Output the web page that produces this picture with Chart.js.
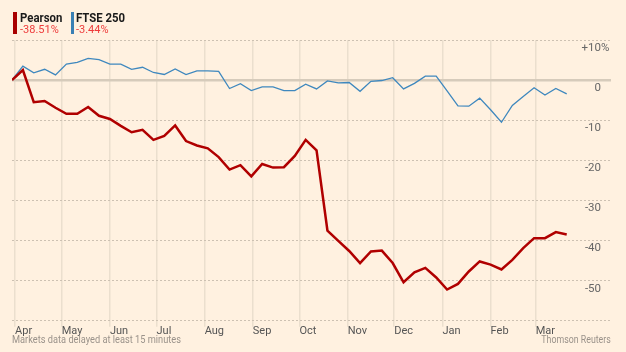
<!DOCTYPE html>
<html>
<head>
<meta charset="utf-8">
<script src="https://cdn.jsdelivr.net/npm/chart.js@4.4.0/dist/chart.umd.min.js"></script>
<style>
  body { margin: 0; background: #fff1e0; }
  #wrap { position: relative; width: 626px; height: 352px; background: #fff1e0;
          font-family: Roboto, "Liberation Sans", sans-serif; }
  .key { position: absolute; top: 12px; height: 22px; }
  .key b { display: block; font-size: 12.5px; line-height: 12px; color: #1a1a1a;
           transform: scaleX(0.91); transform-origin: left; }
  .key span { display: block; font-size: 11px; line-height: 12px; color: #ee3b3b; }
  .note { position: absolute; top: 333px; font-size: 11px; color: #9a928a; white-space: nowrap; }
</style>
</head>
<body>
<div id="wrap">
  <canvas id="myChart" width="626" height="352"></canvas>
  <div class="key" style="left:13px; border-left:4px solid #a80000; padding-left:3px;">
    <b>Pearson</b><span>-38.51%</span>
  </div>
  <div class="key" style="left:71px; border-left:3px solid #3a80b4; padding-left:2px;">
    <b>FTSE 250</b><span>-3.44%</span>
  </div>
  <div class="note" style="left:12px; transform:scaleX(0.84); transform-origin:left;">Markets data delayed at least 15 minutes</div>
  <div class="note" style="right:15px; transform:scaleX(0.8); transform-origin:right;">Thomson Reuters</div>
</div>
<script>
var fontFamily = 'Roboto, "Liberation Sans", sans-serif';

// weekly closes, % change since 30 Mar 2015
var weeks = [
  '2015-03-30','2015-04-06','2015-04-13','2015-04-20','2015-04-27','2015-05-04','2015-05-11','2015-05-18',
  '2015-05-25','2015-06-01','2015-06-08','2015-06-15','2015-06-22','2015-06-29','2015-07-06','2015-07-13',
  '2015-07-20','2015-07-27','2015-08-03','2015-08-10','2015-08-17','2015-08-24','2015-08-31','2015-09-07',
  '2015-09-14','2015-09-21','2015-09-28','2015-10-05','2015-10-12','2015-10-19','2015-10-26','2015-11-02',
  '2015-11-09','2015-11-16','2015-11-23','2015-11-30','2015-12-07','2015-12-14','2015-12-21','2015-12-28',
  '2016-01-04','2016-01-11','2016-01-18','2016-01-25','2016-02-01','2016-02-08','2016-02-15','2016-02-22',
  '2016-02-29','2016-03-07','2016-03-14','2016-03-21'
];

var pearson = [
  0, 2.5, -5.5, -5.2, -6.9, -8.4, -8.4, -6.7, -8.9, -9.7, -11.4, -13.0, -12.4,
  -14.9, -13.9, -11.3, -15.2, -16.3, -17.0, -19.2, -22.3, -21.2, -24.0, -20.9, -21.8, -21.7,
  -18.9, -14.9, -17.5, -37.5, -40.1, -42.6, -45.6, -42.7, -42.5, -45.6, -50.4, -47.9, -46.8,
  -49.2, -52.2, -50.8, -47.7, -45.2, -46.0, -47.2, -44.8, -41.9, -39.4, -39.4, -37.9, -38.51
];

var ftse250 = [
  0, 3.5, 1.8, 2.7, 1.3, 4.0, 4.4, 5.4, 5.1, 4.0, 4.0, 2.7, 3.2,
  1.9, 1.4, 2.8, 1.4, 2.3, 2.3, 2.2, -2.1, -0.9, -2.6, -1.7, -1.7, -2.6,
  -2.6, -1.0, -2.2, -0.2, -0.7, -0.6, -2.8, -0.3, -0.1, 0.6, -2.2, -0.8, 1.0,
  1.0, -2.7, -6.4, -6.5, -4.5, -7.4, -10.5, -6.3, -4.1, -1.9, -3.7, -2.1, -3.44
];

var monthStarts = ['2015-04-01','2015-05-01','2015-06-01','2015-07-01','2015-08-01','2015-09-01',
                   '2015-10-01','2015-11-01','2015-12-01','2016-01-01','2016-02-01','2016-03-01'];
var monthLabels = ['Apr','May','Jun','Jul','Aug','Sep','Oct','Nov','Dec','Jan','Feb','Mar'];
var yTicks = [10, 0, -10, -20, -30, -40, -50, -60];

// x axis is days since 1 Apr 2015
function dayOf(s) {
  return Math.round((Date.parse(s) - Date.parse('2015-04-01')) / 86400000);
}
var monthDays = monthStarts.map(dayOf);

function points(values) {
  return values.map(function (v, i) { return { x: dayOf(weeks[i]), y: v }; });
}

// y labels sit just under their gridline, right aligned, with the % hanging out
var yLabels = {
  id: 'yLabels',
  afterDraw: function (chart) {
    var ctx = chart.ctx;
    var scale = chart.scales.y;
    var x = chart.chartArea.right - 10;
    ctx.save();
    ctx.font = '11.5px ' + fontFamily;
    ctx.fillStyle = '#666';
    ctx.textBaseline = 'middle';
    yTicks.forEach(function (v) {
      if (v === -60) return;
      var y = scale.getPixelForValue(v) + 8;
      ctx.textAlign = 'right';
      ctx.fillText(v > 0 ? '+' + v : String(v), x, y);
      if (v === 10) {
        ctx.textAlign = 'left';
        ctx.fillText('%', x, y);
      }
    });
    ctx.restore();
  }
};

const config = {
  type: 'line',
  data: {
    datasets: [{
      label: 'Pearson',
      data: points(pearson),
      borderColor: '#b00000',
      borderWidth: 2.5,
      pointRadius: 0,
      tension: 0
    }, {
      label: 'FTSE 250',
      data: points(ftse250),
      borderColor: '#3f88be',
      borderWidth: 1.3,
      pointRadius: 0,
      tension: 0
    }]
  },
  options: {
    responsive: false,
    animation: false,
    events: [],
    layout: { padding: { left: 12, right: 15, top: 40, bottom: 16 } },
    plugins: { legend: { display: false }, tooltip: { enabled: false } },
    scales: {
      x: {
        type: 'linear',
        min: -2,
        max: 383.5,
        afterBuildTicks: function (scale) {
          scale.ticks = monthDays.map(function (d) { return { value: d }; });
        },
        ticks: {
          autoSkip: false,
          maxRotation: 0,
          align: 'start',
          padding: -2,
          color: '#555',
          font: { family: fontFamily, size: 11 },
          callback: function (v, i) { return monthLabels[i]; }
        },
        grid: { color: '#ebdfce', lineWidth: 1.5, tickLength: 6, tickColor: '#ebdfce' },
        border: { display: false }
      },
      y: {
        position: 'right',
        min: -60,
        max: 10,
        afterBuildTicks: function (scale) {
          scale.ticks = yTicks.map(function (v) { return { value: v }; });
        },
        ticks: { display: false },
        grid: {
          drawTicks: false,
          color: function (c) { return c.tick.value === 0 ? '#d6cbbb' : '#cdc1b2'; },
          lineWidth: function (c) { return c.tick.value === 0 ? 2.5 : 1; }
        },
        border: {
          display: false,
          dash: function (c) { return c.tick.value === 0 ? [] : [2, 2]; }
        }
      }
    }
  },
  plugins: [yLabels]
};

const myChart = new Chart(document.getElementById('myChart'), config);
</script>
</body>
</html>
